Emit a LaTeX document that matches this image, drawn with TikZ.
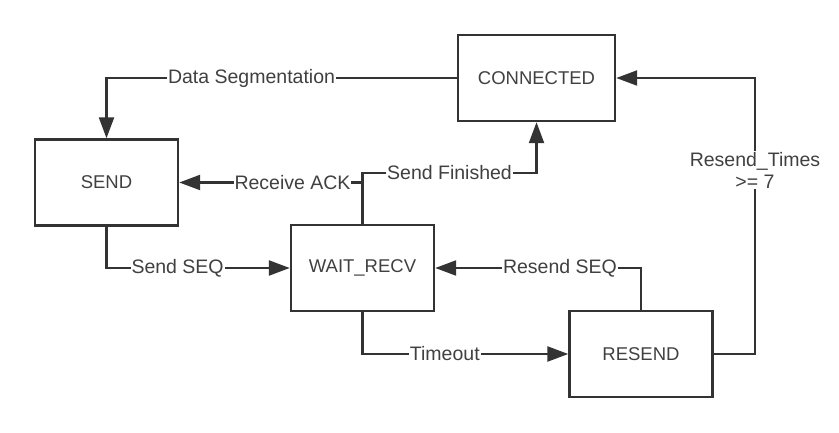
\documentclass[tikz,border=0pt]{standalone}
\usepackage{fontspec}
\setmainfont{Liberation Sans}
\definecolor{linegray}{RGB}{51, 51, 51}
\definecolor{textgray}{RGB}{64, 64, 64}
\usetikzlibrary{arrows.meta, positioning}

\begin{document}
\begin{tikzpicture}[
        x=1pt, y=-1pt,
        state/.style={rectangle, draw=linegray, line width=2.4pt, fill=white, minimum width=143pt, minimum height=86pt, text=textgray, font=\fontsize{18.5}{22}\selectfont},
        arrow/.style={-{Triangle[length=21pt, width=15pt]}, line width=2.3pt, draw=linegray},
        lbl/.style={fill=white, inner sep=1pt, text=textgray, font=\fontsize{19.5}{22}\selectfont}
    ]
        \useasboundingbox (0,0) rectangle (839,433);

        \node[state, minimum width=157pt] (con) at (536.5,78) {CONNECTED};
        \node[state] (send) at (106.5,182.5) {SEND};
        \node[state] (wait) at (362.5,268) {WAIT\_RECV};
        \node[state] (resend) at (641,354) {RESEND};

        \coordinate (finbend) at (536.5,173);
        \coordinate (rbend) at (755,354);

        \draw[arrow] (con.west) -| node[lbl, pos=0.293] {Data Segmentation} (send.north);
        \draw[arrow] (wait.north) |- node[lbl, pos=0.691] {Receive ACK} (send.east);
        \draw[arrow] (wait.north) |- node[lbl, pos=0.75] {Send Finished} (finbend) -- (con.south);
        \draw[arrow] (send.south) |- node[lbl, pos=0.694] {Send SEQ} (wait.west);
        \draw[arrow] (resend.north) |- node[lbl, pos=0.697] {Resend SEQ} (wait.east);
        \draw[arrow] (wait.south) |- node[lbl, pos=0.7] {Timeout} (resend.west);
        \draw[arrow] (resend.east) -- (rbend) |- node[lbl, pos=0.333, align=center] {Resend\_Times\\>= 7} (con.east);
    \end{tikzpicture}
\end{document}
